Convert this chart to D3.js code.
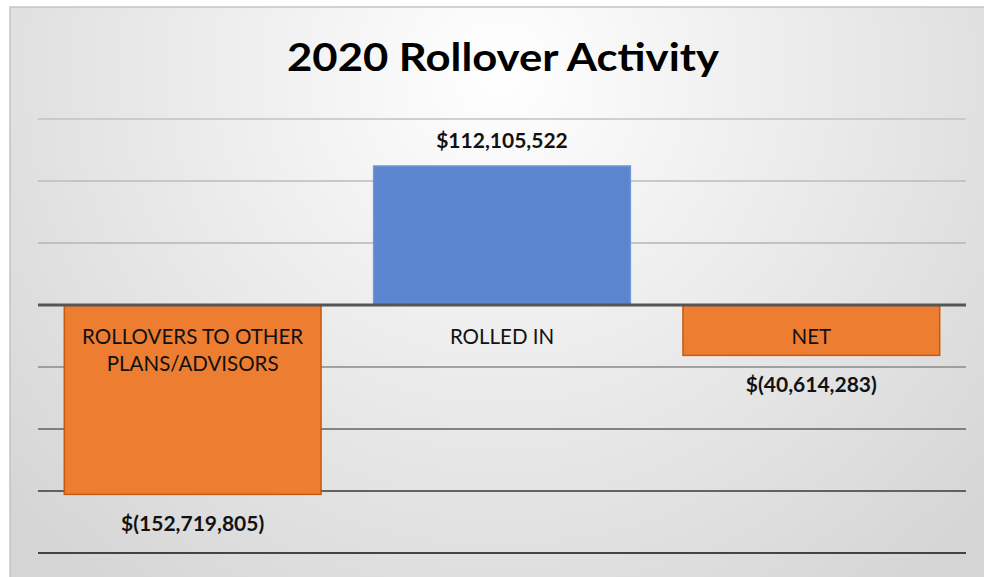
<!DOCTYPE html>
<html>
<head>
<meta charset="utf-8">
<script src="https://cdn.jsdelivr.net/npm/d3@7"></script>
<style>
  html, body { margin: 0; padding: 0; background: #ffffff; }
  svg { display: block; }
</style>
</head>
<body>
<div id="chart"></div>
<script>
// 2020 Rollover Activity - column chart with negative values

var categories = ["ROLLOVERS TO OTHER PLANS/ADVISORS", "ROLLED IN", "NET"];
var categoryLines = [["ROLLOVERS TO OTHER", "PLANS/ADVISORS"], ["ROLLED IN"], ["NET"]];
var values = [-152719805, 112105522, -40614283];
var valueLabels = ["$(152,719,805)", "$112,105,522", "$(40,614,283)"];
var tickValues = [-200000000, -150000000, -100000000, -50000000, 0, 50000000, 100000000, 150000000];

var width = 984,
  height = 577;

var data = categories.map(function(c, i) {
  return { name: c, lines: categoryLines[i], value: values[i], label: valueLabels[i] };
});

var svg = d3.select("#chart").append("svg")
  .attr("width", width)
  .attr("height", height);

// background gradient
var defs = svg.append("defs");
var bg = defs.append("radialGradient")
  .attr("id", "bgGrad")
  .attr("gradientUnits", "userSpaceOnUse")
  .attr("cx", 500).attr("cy", 70).attr("r", 660);
bg.append("stop").attr("offset", "0%").attr("stop-color", "#ffffff");
bg.append("stop").attr("offset", "100%").attr("stop-color", "#d5d5d5");

svg.append("rect")
  .attr("x", 10).attr("y", 7)
  .attr("width", width + 20).attr("height", height)
  .style("fill", "url(#bgGrad)")
  .style("stroke", "#c4c4c4")
  .style("stroke-width", 1.5);

// title
svg.append("text")
  .attr("x", 503)
  .attr("y", 71)
  .attr("text-anchor", "middle")
  .attr("textLength", 432)
  .attr("lengthAdjust", "spacingAndGlyphs")
  .style("font-family", "Lato, 'Open Sans', sans-serif")
  .style("font-weight", "bold")
  .style("font-size", "39px")
  .style("fill", "#000000")
  .text("2020 Rollover Activity");

// scales
var x = d3.scaleBand()
  .domain(categories)
  .range([38, 966])
  .paddingInner(0.17)
  .paddingOuter(0.085);

var y = d3.scaleLinear()
  .domain([-200000000, 150000000])
  .range([553, 119]);

// grid line colours get darker towards the bottom
var gridColor = d3.scaleLinear()
  .domain([119, 243, 367, 553])
  .range(["#c2c2c2", "#b4b4b4", "#8a8a8a", "#111111"]);

svg.append("g")
  .attr("class", "grid")
  .selectAll("line")
  .data(tickValues.filter(function(d) { return d !== 0; }))
  .enter().append("line")
  .attr("x1", 38)
  .attr("x2", 966)
  .attr("y1", function(d) { return y(d); })
  .attr("y2", function(d) { return y(d); })
  .style("stroke", function(d) { return gridColor(y(d)); })
  .style("stroke-width", 1.5);

// bars
svg.append("g")
  .selectAll("rect")
  .data(data)
  .enter().append("rect")
  .attr("x", function(d) { return x(d.name); })
  .attr("width", x.bandwidth())
  .attr("y", function(d) { return y(Math.max(0, d.value)); })
  .attr("height", function(d) { return Math.abs(y(d.value) - y(0)); })
  .style("fill", function(d) { return d.value < 0 ? "#ed7d31" : "#5b86cf"; })
  .style("stroke", function(d) { return d.value < 0 ? "#c55a11" : "#7096d6"; })
  .style("stroke-width", 1.5);

// zero line
svg.append("line")
  .attr("x1", 38)
  .attr("x2", 966)
  .attr("y1", y(0))
  .attr("y2", y(0))
  .style("stroke", "#555555")
  .style("stroke-width", 3);

// category labels just below the zero line
var catText = svg.append("g")
  .selectAll("text")
  .data(data)
  .enter().append("text")
  .attr("x", function(d) { return x(d.name) + x.bandwidth() / 2; })
  .attr("y", y(0) + 39)
  .attr("text-anchor", "middle")
  .style("font-family", "Lato, 'Open Sans', sans-serif")
  .style("font-size", "20.5px")
  .style("fill", "#111111");

catText.selectAll("tspan")
  .data(function(d) { return d.lines; })
  .enter().append("tspan")
  .attr("x", function() { var p = d3.select(this.parentNode).datum(); return x(p.name) + x.bandwidth() / 2; })
  .attr("dy", function(d, i) { return i === 0 ? 0 : 27; })
  .text(function(d) { return d; });

// value labels
svg.append("g")
  .selectAll("text")
  .data(data)
  .enter().append("text")
  .attr("x", function(d) { return x(d.name) + x.bandwidth() / 2; })
  .attr("y", function(d) { return d.value < 0 ? y(d.value) + 37 : y(d.value) - 18; })
  .attr("text-anchor", "middle")
  .style("font-family", "Lato, 'Open Sans', sans-serif")
  .style("font-weight", "bold")
  .style("font-size", "21px")
  .style("fill", "#111111")
  .text(function(d) { return d.label; });
</script>
</body>
</html>
